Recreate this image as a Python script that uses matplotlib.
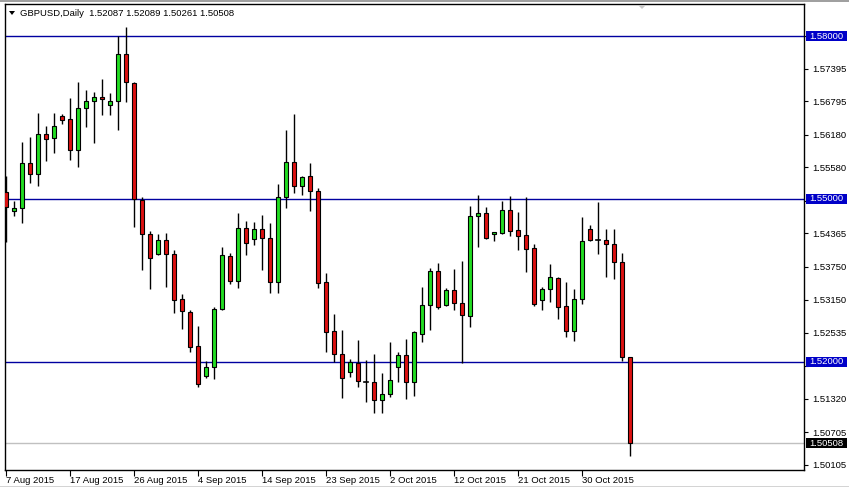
import matplotlib
matplotlib.use("Agg")
import matplotlib.pyplot as plt
import matplotlib.transforms as mtransforms
from matplotlib.patches import Rectangle, Polygon

# GBPUSD daily candles, 7 Aug 2015 .. 6 Nov 2015 (Sunday bars included)
opens = [1.55123, 1.54785, 1.54829, 1.55657, 1.55455, 1.56191, 1.56117, 1.56522, 1.56467, 1.55896,
         1.56669, 1.56798, 1.56872, 1.56725, 1.56798, 1.57669, 1.57130, 1.54987, 1.54350, 1.53993,
         1.54245, 1.53982, 1.53154, 1.52924, 1.52289, 1.51748, 1.51902, 1.52970, 1.53951, 1.53496,
         1.54461, 1.54258, 1.54442, 1.54282, 1.53478, 1.55031, 1.55676, 1.55234, 1.55418, 1.55147,
         1.53467, 1.52567, 1.52142, 1.51811, 1.51987, 1.51637, 1.51626, 1.51295, 1.51406, 1.51902,
         1.52129, 1.51626, 1.52521, 1.53044, 1.53675, 1.53055, 1.53320, 1.53086, 1.52841, 1.54682,
         1.54739, 1.54350, 1.54380, 1.54792, 1.54424, 1.54337, 1.54098, 1.53136, 1.53338, 1.53546,
         1.53025, 1.52576, 1.53154, 1.54442, 1.54251, 1.54240, 1.54166, 1.53835, 1.52087]
highs = [1.55423, 1.54963, 1.56049, 1.56141, 1.56583, 1.56338, 1.56583, 1.56559, 1.56859, 1.57153,
         1.57006, 1.56969, 1.57203, 1.56951, 1.58000, 1.58171, 1.57148, 1.55031, 1.54406, 1.54350,
         1.54369, 1.54061, 1.53248, 1.52957, 1.52659, 1.52018, 1.53003, 1.54117, 1.54001, 1.54742,
         1.54601, 1.54577, 1.54706, 1.54558, 1.55276, 1.56270, 1.56564, 1.55423, 1.55663, 1.55197,
         1.53633, 1.52884, 1.52589, 1.52061, 1.52399, 1.52037, 1.52142, 1.51792, 1.52363, 1.52178,
         1.52418, 1.52571, 1.53380, 1.53725, 1.53822, 1.53368, 1.53712, 1.53859, 1.54866, 1.55079,
         1.54858, 1.54398, 1.54963, 1.55061, 1.54761, 1.55037, 1.54172, 1.53375, 1.53804, 1.53559,
         1.53472, 1.53344, 1.54669, 1.54516, 1.54945, 1.54448, 1.54448, 1.54006, 1.52089]
lows = [1.54214, 1.54693, 1.54564, 1.55300, 1.55245, 1.55705, 1.55852, 1.56386, 1.55723, 1.55595,
        1.56331, 1.56036, 1.56552, 1.56552, 1.56276, 1.56780, 1.54490, 1.53688, 1.53338, 1.53964,
        1.53375, 1.52896, 1.52607, 1.52175, 1.51545, 1.51711, 1.51687, 1.52957, 1.53441, 1.53368,
        1.53975, 1.54159, 1.53693, 1.53275, 1.53275, 1.54840, 1.55116, 1.55079, 1.54785, 1.53368,
        1.52190, 1.52006, 1.51332, 1.51730, 1.51545, 1.51269, 1.51056, 1.51056, 1.51361, 1.51637,
        1.51314, 1.51380, 1.52374, 1.52589, 1.52976, 1.53036, 1.52963, 1.51982, 1.52650, 1.54122,
        1.54269, 1.54232, 1.54361, 1.54325, 1.54061, 1.53662, 1.53036, 1.52963, 1.53110, 1.52791,
        1.52466, 1.52392, 1.53073, 1.54227, 1.53993, 1.53570, 1.53528, 1.52024, 1.50261]
closes = [1.54847, 1.54829, 1.55657, 1.55455, 1.56191, 1.56099, 1.56338, 1.56460, 1.55896, 1.56669,
          1.56804, 1.56872, 1.56835, 1.56798, 1.57669, 1.57148, 1.55000, 1.54350, 1.53909, 1.54245,
          1.53982, 1.53132, 1.52933, 1.52282, 1.51586, 1.51908, 1.52976, 1.53964, 1.53496, 1.54461,
          1.54196, 1.54442, 1.54277, 1.53478, 1.55031, 1.55676, 1.55234, 1.55399, 1.55142, 1.53460,
          1.52561, 1.52142, 1.51700, 1.52006, 1.51645, 1.51637, 1.51295, 1.51406, 1.51669, 1.52129,
          1.51626, 1.52547, 1.53044, 1.53680, 1.53012, 1.53325, 1.53080, 1.52860, 1.54682, 1.54737,
          1.54291, 1.54387, 1.54792, 1.54417, 1.54325, 1.54085, 1.53068, 1.53344, 1.53559, 1.53018,
          1.52576, 1.53160, 1.54221, 1.54251, 1.54251, 1.54166, 1.53835, 1.52087, 1.50508]

date_pos = [0, 8, 16, 24, 32, 40, 48, 56, 64, 72]
date_labels = ["7 Aug 2015", "17 Aug 2015", "26 Aug 2015", "4 Sep 2015", "14 Sep 2015",
               "23 Sep 2015", "2 Oct 2015", "12 Oct 2015", "21 Oct 2015", "30 Oct 2015"]
price_ticks = [1.57995, 1.57395, 1.56795, 1.56180, 1.55580, 1.54965, 1.54365, 1.53750,
               1.53150, 1.52535, 1.51935, 1.51320, 1.50705, 1.50105]
hidden_ticks = [1.57995, 1.54965, 1.51935]   # covered by the level boxes
levels = [1.58000, 1.55000, 1.52000]
last_price = 1.50508
title = "GBPUSD,Daily  1.52087 1.52089 1.50261 1.50508"

W, H = 849, 488
plt.rcParams['font.family'] = ['Liberation Sans', 'DejaVu Sans']
fig = plt.figure(figsize=(W / 100, H / 100), dpi=100)
fig.patch.set_facecolor('white')
ax = fig.add_axes([5 / W, 1 - 470 / H, 799 / W, 466 / H])

up_col, down_col = '#22DD22', '#DD1111'
bw = 0.6
for k in range(len(opens)):
    o, h, l, c = opens[k], highs[k], lows[k], closes[k]
    ax.plot([k, k], [l, h], color='black', lw=1, zorder=2, solid_capstyle='butt')
    if abs(c - o) < 1e-5:
        ax.plot([k - bw / 2, k + bw / 2], [o, o], color='black', lw=1.2, zorder=3)
        continue
    col = up_col if c > o else down_col
    ax.add_patch(Rectangle((k - bw / 2, min(o, c)), bw, abs(c - o),
                           facecolor=col, edgecolor='black', lw=0.8, zorder=3))

for lv in levels:
    ax.axhline(lv, color='#0000A0', lw=1, zorder=1)
ax.axhline(last_price, color='#C0C0C0', lw=1, zorder=1)

ax.set_xlim(-0.125, 99.75)
ax.set_ylim(1.50012, 1.58589)

ax.yaxis.tick_right()
ax.set_yticks(price_ticks)
ax.set_yticklabels(["" if v in hidden_ticks else f"{v:.5f}" for v in price_ticks])
ax.set_xticks(date_pos)
ax.set_xticklabels(date_labels, ha='left')
ax.tick_params(axis='y', direction='out', length=3, pad=3, labelsize=6.8, colors='black')
ax.tick_params(axis='x', direction='out', length=4, pad=0, labelsize=6.8, colors='black')
for s in ax.spines.values():
    s.set_color('black')
    s.set_linewidth(1)

# price boxes on the right scale
blend = mtransforms.blended_transform_factory(fig.transFigure, ax.transData)
box_h = 10 * (1.58589 - 1.50012) / 466
for v, fc in [(1.58, '#0000C8'), (1.55, '#0000C8'), (1.52, '#0000C8'), (last_price, 'black')]:
    ax.add_patch(Rectangle((806 / W, v - box_h / 2), 41 / W, box_h, transform=blend,
                           facecolor=fc, edgecolor='none', clip_on=False, zorder=5))
    ax.text(826.5 / W, v, f"{v:.5f}", transform=blend, ha='center', va='center',
            color='white', fontsize=6.8, clip_on=False, zorder=6)

# header text and small markers
fig.text(20 / W, 1 - 13 / H, title, ha='left', va='center', fontsize=6.8)
fig.patches.append(Polygon([[9 / W, 1 - 11 / H], [15 / W, 1 - 11 / H], [12 / W, 1 - 15 / H]],
                           closed=True, facecolor='black', edgecolor='none', transform=fig.transFigure))
fig.patches.append(Polygon([[638 / W, 1 - 5 / H], [646 / W, 1 - 5 / H], [642 / W, 1 - 9 / H]],
                           closed=True, facecolor='#C8C8C8', edgecolor='none', transform=fig.transFigure))
fig.patches.append(Rectangle((0, 1 - 2 / H), 1, 2 / H, facecolor='#A0A0A0', edgecolor='none',
                             transform=fig.transFigure))
fig.patches.append(Rectangle((0, 1 - 487 / H), 1, 1 / H, facecolor='#D4D4D4', edgecolor='none',
                             transform=fig.transFigure))

fig.savefig("out.png", dpi=100)
